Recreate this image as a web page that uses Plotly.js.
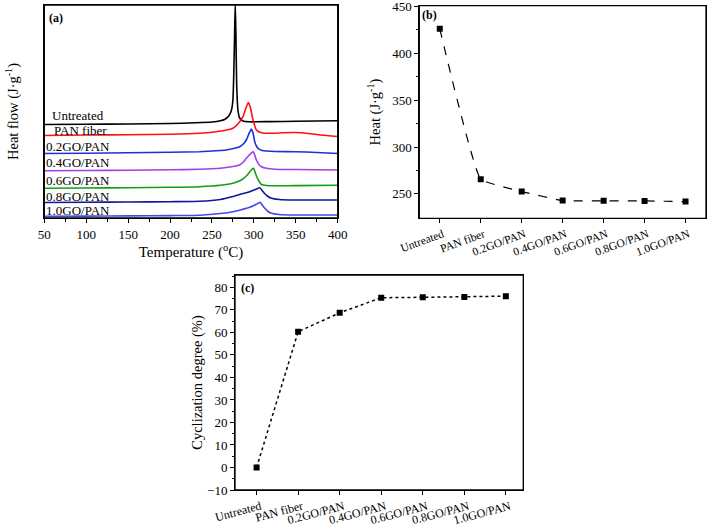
<!DOCTYPE html>
<html>
<head>
<meta charset="utf-8">
<script src="https://cdn.plot.ly/plotly-3.0.1.min.js"></script>
<style>html,body{margin:0;padding:0;background:#fff;}#chart{width:709px;height:527px;}</style>
</head>
<body>
<div id="chart"></div>
<script>
// ---- Panel (a): DSC curves (heat flow, arbitrary offset units) ----
const tUntreated = [50,100,150,200,230,250,260,265,270,273,275,276,277,277.8,278.6,279.5,281,283,287,295,320,350,400];
const hfUntreated = [93.5,93.7,94,94.5,95.2,96,97.2,98.5,102,107,118,143,183,215,183,133,108,100,97,96.2,96.4,96.7,97.2];

const tPAN = [50,100,150,200,235,255,265,275,282,287,291,293.5,296,299,303,309,320,335,350,365,380,400];
const hfPAN = [82.5,83,83.3,83.7,84.7,86.3,87.5,89.7,95,101.3,111,115.5,110,98,88,85.3,84.7,85.3,85.5,84.5,83,81.5];

const tGO02 = [50,100,150,200,235,255,267,276,283,288,291,294,297,299,301,303,305,310,315,325,350,375,400];
const hfGO02 = [64.5,64.8,65.2,65.7,66.3,67.2,68,69.5,71.3,74.5,78,84,89,85,76.3,72,69.7,67.5,67,66.5,66.3,65.5,64.5];

const tGO04 = [50,100,150,200,235,260,275,283,288,291,294,297,299.5,301,303,306,309,315,325,350,400];
const hfGO04 = [47.2,47.5,47.8,48.2,48.7,49.7,51.5,53,56.5,59.7,62.5,65,66.3,63,58,53.5,51.3,49.7,48.8,48.5,48];

const tGO06 = [50,100,150,200,235,260,275,285,291,295,297.5,299.6,301,303,306,309,315,325,350,400];
const hfGO06 = [29.7,30,30.3,30.7,31.3,32.7,34.7,38,42,46,48.5,49.7,47,42,37,33.5,32.5,32.2,32.4,32.7];

const tGO08 = [50,100,150,200,235,260,275,285,295,300,303,305,307,309,312.5,316,321,330,350,400];
const hfGO08 = [15.5,15.7,16,16.3,16.7,18.5,21.5,24,26.3,28,29,29.8,30.3,28.5,24.7,22,19.7,18.5,18,18];

const tGO10 = [50,100,150,200,235,260,275,285,295,300,303,305.5,307.6,309.5,313,317,321,330,350,400];
const hfGO10 = [1.7,1.9,2.1,2.4,2.8,4.5,6.3,8.3,10.7,12.5,13.7,15,15.7,13.5,9.7,6.5,4.7,3.5,3,3];

const curveLabels = ["Untreated","PAN fiber","0.2GO/PAN","0.4GO/PAN","0.6GO/PAN","0.8GO/PAN","1.0GO/PAN"];
const labelY = [102.3, 87.3, 71.3, 55.3, 38, 21.3, 7.3];

// ---- Panels (b) and (c) ----
const samples = ["Untreated","PAN fiber","0.2GO/PAN","0.4GO/PAN","0.6GO/PAN","0.8GO/PAN","1.0GO/PAN"];
const heatValues = [426, 265.7, 252.5, 242.9, 242.6, 242.5, 241.8];
const cyclizationValues = [0, 60.3, 68.7, 75.4, 75.6, 75.7, 76.1];
const heatTicks = [250, 300, 350, 400, 450];

const colors = ["#000000","#ff1010","#2030d8","#a040e8","#12a012","#1414a0","#4848e8"];
const tSets = [tUntreated,tPAN,tGO02,tGO04,tGO06,tGO08,tGO10];
const hSets = [hfUntreated,hfPAN,hfGO02,hfGO04,hfGO06,hfGO08,hfGO10];

const serif = "Liberation Serif, Times New Roman, serif";
const traces = [];
for (let i = 0; i < tSets.length; i++) {
  traces.push({x: tSets[i], y: hSets[i], type: "scatter", mode: "lines", xaxis: "x", yaxis: "y",
    line: {color: colors[i], width: 1.6, shape: "spline", smoothing: 0.5}, hoverinfo: "skip", showlegend: false});
}
traces.push({x: samples, y: heatValues, type: "scatter", mode: "lines+markers", xaxis: "x2", yaxis: "y2",
  line: {color: "#000", width: 1.2, dash: "dash", shape: "spline", smoothing: 0.3},
  marker: {symbol: "square", size: 6, color: "#000"}, showlegend: false});
traces.push({x: samples, y: cyclizationValues, type: "scatter", mode: "lines+markers", xaxis: "x3", yaxis: "y3",
  line: {color: "#000", width: 1.5, dash: "dot"},
  marker: {symbol: "square", size: 6, color: "#000"}, showlegend: false});

const W = 709, H = 527;
const px = v => v / W, py = v => 1 - v / H;

const axisBase = {showline: true, linecolor: "#000000", linewidth: 1, mirror: true, showgrid: false, zeroline: false,
  tickfont: {family: serif, size: 13, color: "#000"}, ticks: "outside", ticklen: 4, tickwidth: 1, tickcolor: "#000",
  ticklabeloverflow: "allow"};

const annotations = [];
const labelLeftPx = [49.5, 52.2, 44, 44, 44, 44, 44];
for (let i = 0; i < curveLabels.length; i++) {
  annotations.push({xref: "paper", yref: "y", x: px(labelLeftPx[i]), y: labelY[i], text: curveLabels[i], showarrow: false,
    xanchor: "left", yanchor: "middle", font: {family: serif, size: 13, color: "#000"}});
}
annotations.push({xref: "paper", yref: "paper", x: px(47), y: py(17.5), text: "<b>(a)</b>", showarrow: false, xanchor: "left", yanchor: "middle", font: {family: serif, size: 12, color: "#000"}});
annotations.push({xref: "paper", yref: "paper", x: px(420), y: py(15), text: "<b>(b)</b>", showarrow: false, xanchor: "left", yanchor: "middle", font: {family: serif, size: 12, color: "#000"}});
annotations.push({xref: "paper", yref: "paper", x: px(239), y: py(288.3), text: "<b>(c)</b>", showarrow: false, xanchor: "left", yanchor: "middle", font: {family: serif, size: 12, color: "#000"}});

// frames around each plot area
const frame = (xr, yr) => ({type: "rect", xref: xr + " domain", yref: yr + " domain", x0: 0, x1: 1, y0: 0, y1: 1,
  line: {color: "#000", width: 1.3}, fillcolor: "rgba(0,0,0,0)", layer: "above"});

const layout = {
  width: W, height: H, margin: {l: 0, r: 0, t: 0, b: 0}, paper_bgcolor: "#fff", plot_bgcolor: "#fff",
  showlegend: false,
  xaxis: Object.assign({}, axisBase, {domain: [px(44.3), px(337.7)], anchor: "y", range: [50, 400], dtick: 50, tick0: 0,
    minor: {ticks: "outside", ticklen: 2.5, dtick: 25, tickcolor: "#000"},
    title: {text: "Temperature (<sup>o</sup>C)", font: {family: serif, size: 15, color: "#000"}, standoff: 5}}),
  yaxis: Object.assign({}, axisBase, {domain: [py(218), py(5)], anchor: "x", range: [0, 213], ticks: "", showticklabels: false,
    title: {text: "Heat flow (J·g<sup>-1</sup>)", font: {family: serif, size: 14.5, color: "#000"}, standoff: 21}}),
  xaxis2: Object.assign({}, axisBase, {domain: [px(419.3), px(706)], anchor: "y2", type: "category", range: [-0.5, 6.5], tickangle: -20,
    ticklabelshift: 3, tickfont: {family: serif, size: 11.5, color: "#000"}}),
  yaxis2: Object.assign({}, axisBase, {domain: [py(218.3), py(5.7)], anchor: "x2", range: [224, 450.6], tickvals: heatTicks,
    minor: {ticks: "outside", ticklen: 2.5, tickvals: [275, 325, 375, 425], tickcolor: "#000"},
    title: {text: "Heat (J·g<sup>-1</sup>)", font: {family: serif, size: 14.5, color: "#000"}, standoff: 8}}),
  xaxis3: Object.assign({}, axisBase, {domain: [px(235), px(523.3)], anchor: "y3", type: "category", range: [-0.52, 6.42], tickangle: -15,
    ticklabelshift: 4, tickfont: {family: serif, size: 12, color: "#000"}}),
  yaxis3: Object.assign({}, axisBase, {domain: [py(490), py(275)], anchor: "x3", range: [-10, 85.5], dtick: 10, tick0: 0,
    minor: {ticks: "outside", ticklen: 2.5, dtick: 5, tickcolor: "#000"},
    title: {text: "Cyclization degree (%)", font: {family: serif, size: 14.5, color: "#000"}, standoff: 0}}),
  shapes: [frame("x", "y"), frame("x2", "y2"), frame("x3", "y3")],
  annotations: annotations
};

Plotly.newPlot("chart", traces, layout, {displayModeBar: false, staticPlot: true});
</script>
</body>
</html>
